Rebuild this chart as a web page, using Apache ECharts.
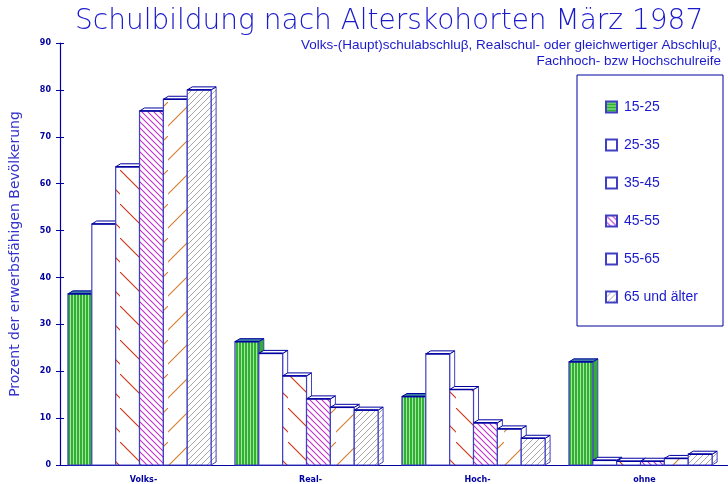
<!DOCTYPE html>
<html>
<head>
<meta charset="utf-8">
<script src="https://cdn.jsdelivr.net/npm/echarts@6/dist/echarts.min.js"></script>
<style>html,body{margin:0;padding:0;background:#fff}#c{width:728px;height:484px}</style>
</head>
<body>
<div id="c"></div>
<script>
const categories = ['Volks-', 'Real-', 'Hoch-', 'ohne'];
const seriesNames = ['15-25', '25-35', '35-45', '45-55', '55-65', '65 und älter'];
const v15_25 = [36.5, 26.3, 14.6, 22.0];
const v25_35 = [51.4, 23.8, 23.7, 1.0];
const v35_45 = [63.6, 19.0, 16.1, 0.8];
const v45_55 = [75.5, 14.1, 9.0, 0.8];
const v55_65 = [78.0, 12.3, 7.7, 1.4];
const v65 = [80.0, 11.7, 5.7, 2.3];
const seriesValues = [v15_25, v25_35, v35_45, v45_55, v55_65, v65];
const yTicks = [0, 10, 20, 30, 40, 50, 60, 70, 80, 90];

function pattern(w, h, bg, draw) {
  const cv = document.createElement('canvas');
  cv.width = w; cv.height = h;
  const ctx = cv.getContext('2d');
  ctx.fillStyle = bg; ctx.fillRect(0, 0, w, h);
  draw(ctx);
  return { image: cv, repeat: 'repeat' };
}
function line(ctx, color, lw, pts) {
  ctx.strokeStyle = color; ctx.lineWidth = lw;
  ctx.beginPath(); ctx.moveTo(pts[0], pts[1]); ctx.lineTo(pts[2], pts[3]); ctx.stroke();
}
const fills = [
  pattern(3, 3, '#2fb02f', c => { c.fillStyle = '#a8e4a8'; c.fillRect(1, 0, 1, 3); }),
  '#ffffff',
  pattern(24, 34, '#ffffff', c => { line(c, '#c8300f', 1.1, [-2, -2, 26, 26]); }),
  pattern(6, 6, '#ffffff', c => { line(c, '#c030c8', 1.1, [-1, -1, 7, 7]); line(c, '#c030c8', 1.1, [-4, 2, 2, 8]); line(c, '#c030c8', 1.1, [2, -4, 8, 2]); }),
  pattern(24, 34, '#ffffff', c => { line(c, '#d07a2a', 1.1, [-2, 26, 26, -2]); }),
  pattern(6, 6, '#ffffff', c => { line(c, '#a8a8a8', 1, [-1, 7, 7, -1]); line(c, '#a8a8a8', 1, [-4, 4, 4, -4]); line(c, '#a8a8a8', 1, [2, 10, 10, 2]); })
];
const legendFills = [
  pattern(3, 3, '#2fb02f', c => { c.fillStyle = '#a8e4a8'; c.fillRect(0, 1, 3, 1); }),
  '#ffffff', '#ffffff', fills[3], '#ffffff', fills[5]
];
const topFills = ['#3a7fa0', '#ffffff', '#ffffff', '#ffffff', '#ffffff', '#ffffff'];
const sideFills = ['#2fb02f', '#ffffff', '#ffffff', '#ffffff', '#ffffff', fills[5]];
const stroke = '#4040c4';
const navy = '#0000a0';

function makeRender(si) {
  return function (params, api) {
    const ci = api.value(0);
    const top = api.coord([ci, api.value(1)]);
    const base = api.coord([ci, 0]);
    const bw = api.size([1, 0])[0] / 7;
    const x = top[0] + (si - 3) * bw - bw / 6;
    const t = top[1], b = base[1];
    const dx = 5, dy = 3;
    return {
      type: 'group',
      children: [
        { type: 'polygon', shape: { points: [[x + bw, t], [x + bw + dx, t - dy], [x + bw + dx, b - dy], [x + bw, b]] },
          style: { fill: sideFills[si], stroke: stroke, lineWidth: 1 } },
        { type: 'polygon', shape: { points: [[x, t], [x + dx, t - dy], [x + bw + dx, t - dy], [x + bw, t]] },
          style: { fill: topFills[si], stroke: navy, lineWidth: 1 } },
        { type: 'rect', shape: { x: x, y: t, width: bw, height: b - t },
          style: { fill: fills[si], stroke: stroke, lineWidth: 1.2 } },
        { type: 'line', shape: { x1: x, y1: t, x2: x + bw, y2: t }, style: { stroke: navy, lineWidth: 1.5 } }
      ]
    };
  };
}

const series = seriesNames.map((n, si) => ({
  name: n,
  type: 'custom',
  renderItem: makeRender(si),
  encode: { x: 0, y: 1 },
  itemStyle: { color: legendFills[si], borderColor: stroke, borderWidth: 1 },
  data: seriesValues[si].map((v, ci) => [ci, v]),
  z: 2 + si
}));

const chart = echarts.init(document.getElementById('c'), null, { renderer: 'canvas' });
chart.setOption({
  animation: false,
  backgroundColor: '#ffffff',
  title: {
    text: 'Schulbildung nach Alterskohorten März 1987',
    left: 70, top: 3,
    textStyle: { fontFamily: '"DejaVu Sans"', fontSize: 28, fontWeight: 200, color: '#1a1acc' }
  },
  graphic: [
    { type: 'text', x: 721, y: 37, z: 10,
      style: { text: 'Volks-(Haupt)schulabschluβ, Realschul- oder gleichwertiger Abschluβ,\nFachhoch- bzw Hochschulreife',
        align: 'right', verticalAlign: 'top', fill: '#1a1acc', font: '13.5px "Liberation Sans Narrow", "Liberation Sans", sans-serif', lineHeight: 16 } },
    { type: 'rect', shape: { x: 577, y: 75, width: 146, height: 251 }, style: { fill: 'none', stroke: navy, lineWidth: 1 }, z: 0 }
  ],
  legend: {
    orient: 'vertical', left: 605, top: 100, padding: 0,
    itemWidth: 11, itemHeight: 11, itemGap: 24,
    icon: 'rect',
    textStyle: { fontFamily: '"Liberation Sans Narrow", "Liberation Sans", sans-serif', fontSize: 14, color: '#1a1acc', padding: [0, 0, 0, 2] },
    data: seriesNames
  },
  grid: { left: 58, top: 43, width: 672, height: 422, containLabel: false },
  xAxis: [{
    type: 'category', data: categories, boundaryGap: true,
    axisLine: { lineStyle: { color: navy, width: 1.2 } },
    axisTick: { length: 6, lineStyle: { color: navy } },
    axisLabel: { color: navy, fontSize: 8, fontWeight: 'bold', margin: 11, fontFamily: 'DejaVu Sans' }
  }, {
    type: 'category', data: categories, boundaryGap: true, position: 'bottom',
    axisLine: { show: false }, axisLabel: { show: false },
    axisTick: { inside: true, length: 3, lineStyle: { color: navy } }
  }],
  yAxis: [{
    type: 'value', min: 0, max: 90, interval: 10,
    name: 'Prozent der erwerbsfähigen Bevölkerung', nameLocation: 'middle', nameGap: 38,
    nameTextStyle: { color: '#3333cc', fontSize: 14, fontFamily: 'DejaVu Sans' },
    axisLine: { show: true, lineStyle: { color: navy, width: 1.2 } },
    axisTick: { show: true, length: 4, lineStyle: { color: navy } },
    axisLabel: { color: navy, fontSize: 8, fontWeight: 'bold', margin: 9, fontFamily: 'DejaVu Sans',
      formatter: v => yTicks.indexOf(v) >= 0 ? String(v) : '' },
    splitLine: { show: false }
  }, {
    type: 'value', min: 0, max: 90, interval: 10, position: 'left',
    axisLine: { show: false }, axisLabel: { show: false }, splitLine: { show: false },
    axisTick: { show: true, inside: true, length: 4, lineStyle: { color: navy } }
  }],
  series: series
});
</script>
</body>
</html>
